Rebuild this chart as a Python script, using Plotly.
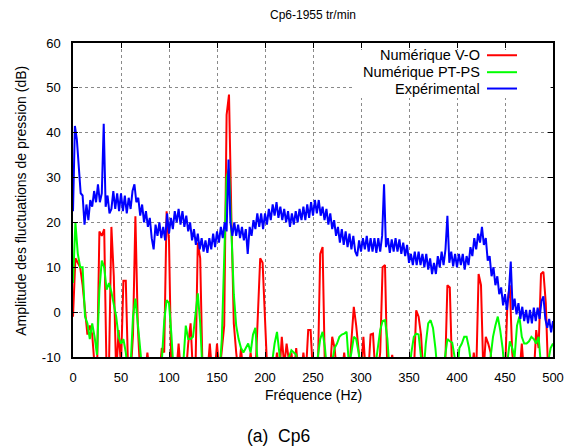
import plotly.graph_objects as go

# ---------------- data ----------------
num_step = 2.5   # Hz, numerical spectra resolution
exp_step = 2.0   # Hz, experimental spectrum resolution

vo_db = [
    -1, 12, 11, 10, 6, 1, -5, -3, -5, -12, -14, 18, 17, 18.5, -14, -12, 19, 8, -14, -4,
    -12, 7, 7, -14, -14, -5, 21.4, -3, -14, -14, -14, -9, -14, -14, -14, -14, -14, -8, -9, 22.5,
    16, -14, -14, -14, -7, -14, -14, -14, -7, -2.5, -14, -14, 15.5, 12, -14, -14, -14, -7, -14, -14,
    -7, -14, -8, -3, 44, 48.5, 21, -2.5, -9, -14, -8, -14, -14, -14, -9, -14, -14, -0.5, 12, 11,
    -5.5, -14, -14, -14, -14, -9, -14, -5.5, -12, -7, -11, -9, -14, -8, -14, -14, -9, -14, -4, -4,
    -14, -14, -14, 13, 14.5, -14, -14, -14, -5.5, -8, -14, -14, -14, -9, -14, -14, -6, 1.2, -3, -9,
    -14, -5.5, -14, -14, -5, -4.8, -14, -14, -9, 10, 10.5, -14, -14, -9.5, -14, -14, -14, -14, -14, -14,
    -14, -14, -14, 0.4, -1, -5, -14, -14, -14, -14, -14, -14, -14, -14, -12, -14, 6, 5.5, -14, -14,
    -14, -14, -14, -12, -14, -14, -14, -9, -14, 8.5, 6, -14, -5.5, -7, -9, -14, -14, -14, -14, -14,
    -14, 2, 6, -9, -14, -14, -14, -7, -14, -14, -14, -14, -14, -4, -8, 8.5, 9, 2, -14, -14, -14,
]

ptps_db = [
    6.5, 20, 13, 10, 10, -1, -2.5, -6, -2.5, -5.5, -9.5, 5, 11.5, 10, 5, 6.5, 4.5, 2, -1, -5.5,
    -7, -6, -9, -14, -12, -1, 3, -2.5, -9, -14, -14, -14, -14, -14, -14, -14, -14, -11, -2, 2.7,
    2, -5, -14, -14, -14, -14, -11, -3, -6, -6, -5.5, 0, 4.2, -2.5, -14, -14, -14, -14, -14, -14,
    -14, -14, -6, 12, 30, 32, 19, 4, -3, -6, -8, -9, -8, -7, -9, -5, -3.5, -12, -14, -14,
    -14, -14, -14, -11, -7, -4.4, -9, -14, -14, -14, -10, -8.5, -9, -9.5, -14, -14, -14, -14, -14, -14,
    -14, -14, -10, -6, -4.4, -8, -14, -14, -11, -8, -7, -5.5, -5, -4.8, -4.4, -12, -9, -5.5, -6, -9,
    -14, -10, -14, -14, -14, -14, -12, -8, -4, -2, -1.8, -6, -14, -14, -14, -14, -14, -14, -14, -14,
    -14, -9, -5.5, -4.8, -5, -10, -14, -7, -2.5, -1.8, -3.5, -8, -14, -14, -14, -10, -6, -6.5, -6.8, -10,
    -14, -8, -7, -5.5, -5.5, -8, -12, -14, -14, -14, -14, -14, -14, -14, -10, -5.5, -3, -1, -4, -8,
    -14, -11, -6.5, -8, -10, -3, -1, -5.5, -7, -7, -6.5, -5.5, -6, -7, -5.5, -12, -11, -14, -11, -8, -7,
]

exp_db = [
    22.5, 41.5, 38.5, 31.5, 26.5, 26, 19.5, 24, 20.5, 25,
    23.5, 27, 24.5, 28.5, 24.5, 26.5, 42, 23.5, 26, 22,
    23, 27, 23, 26.5, 22.5, 26.5, 22.5, 26, 22, 25.5,
    23, 27, 28.5, 24.5, 25.5, 21.5, 24, 20, 22.5, 19,
    21, 16.5, 14, 19.5, 17, 20, 16.5, 19, 16, 22,
    17.5, 21, 18.5, 22.5, 20, 23, 19.5, 22.5, 19, 21.5,
    18, 20, 16, 18.5, 15, 17.5, 14, 16.5, 13.5, 16,
    13.2, 16.5, 14, 17.5, 14.5, 18, 15.5, 19, 16.5, 20,
    18, 34, 20, 17, 20, 17, 19.5, 16.5, 19, 16,
    18.5, 13, 19, 17, 20.5, 18.5, 22, 19, 22, 18.5,
    22, 19.5, 23, 20.5, 24, 21.5, 24.5, 21, 23.5, 20.5,
    23, 20, 22.5, 19, 22, 19.5, 22.5, 20, 23, 20.5,
    23.5, 20.5, 24, 21, 24.5, 21.5, 25, 22, 25, 21.5,
    23.5, 20.5, 23, 19.5, 22, 18.5, 20.5, 17, 19, 15.5,
    18.5, 15, 18, 14.5, 17.5, 14, 17, 13.5, 12.5, 16,
    13.5, 16.5, 14, 17, 13.5, 16.5, 13.5, 16.5, 13.2, 16.5,
    13.5, 17, 28.5, 14.5, 16.5, 13.2, 16.2, 13.5, 16.5, 13.5,
    16.2, 13, 15.5, 12.5, 15, 11, 13, 10.5, 13.5, 10.5,
    13.5, 10.5, 13, 10, 13, 9.5, 12, 8.5, 11, 8.5,
    12.5, 10, 13.5, 10.5, 14, 21.5, 11, 13.5, 10.2, 13,
    10, 13, 10.5, 13, 9.5, 12.5, 10.5, 14.5, 12.5, 16.5,
    14, 17.5, 15.5, 19, 15, 16.5, 11.5, 12.5, 8, 10,
    6, 8, 4, 5.5, 1.5, 4, 0.5, 4.5, 11.3, 0.5,
    3, -0.5, 2, -1.5, 1.2, -2, 0.5, -2.5, 0.5, -2.5,
    1, -2, 1, -1.5, 2.5, 3.5, -1.5, -3.5, -1.5, -4.5, -2,
]

num_freq = [i * num_step for i in range(len(vo_db))]
exp_freq = [i * exp_step for i in range(len(exp_db))]

series_names = ["Numérique V-O", "Numérique PT-PS", "Expérimental"]
series_colors = ["#ff0000", "#00ff00", "#0000ff"]

x_ticks = [0, 50, 100, 150, 200, 250, 300, 350, 400, 450, 500]
y_ticks = [-10, 0, 10, 20, 30, 40, 50, 60]
y_tick_labels = ["-10", "0", "10", "20", "30", "40", "50", "60"]

# ---------------- figure ----------------
FONT = "Liberation Sans, Arial, Helvetica, sans-serif"

fig = go.Figure()
fig.add_trace(go.Scatter(x=num_freq, y=vo_db, mode="lines",
                         line=dict(color=series_colors[0], width=2),
                         name=series_names[0], showlegend=False))
fig.add_trace(go.Scatter(x=num_freq, y=ptps_db, mode="lines",
                         line=dict(color=series_colors[1], width=2),
                         name=series_names[1], showlegend=False))
fig.add_trace(go.Scatter(x=exp_freq, y=exp_db, mode="lines",
                         line=dict(color=series_colors[2], width=2),
                         name=series_names[2], showlegend=False))

axis_common = dict(
    showline=True, linecolor="black", linewidth=1.5, mirror="ticks",
    ticks="inside", ticklen=5, tickcolor="black", tickwidth=1,
    showgrid=True, gridcolor="#8a8a8a", griddash="dot", gridwidth=1,
    zeroline=False, automargin=False,
    tickfont=dict(family=FONT, size=13, color="black"),
)

fig.update_layout(
    width=566, height=448, autosize=False,
    margin=dict(l=73, r=13, t=43, b=91),
    paper_bgcolor="white", plot_bgcolor="white",
    font=dict(family=FONT, color="black"),
    showlegend=False,
    xaxis=dict(range=[0, 500], tickvals=x_ticks, ticklabelstandoff=8,
               ticklabeloverflow="allow", **axis_common),
    yaxis=dict(range=[-10, 60], tickvals=y_ticks, ticktext=y_tick_labels,
               ticklabelstandoff=8, **axis_common),
)

# legend background (opaque key box, as in gnuplot)
fig.add_shape(type="rect", xref="paper", yref="paper",
              x0=0.5875, x1=0.995, y0=0.825, y1=0.978,
              fillcolor="white", line=dict(width=0), layer="above")

legend_rows_y = [0.961, 0.907, 0.855]
for name, color, yy in zip(series_names, series_colors, legend_rows_y):
    fig.add_annotation(x=0.852, y=yy, xref="paper", yref="paper",
                       text=name, showarrow=False, xanchor="right", yanchor="middle",
                       font=dict(family=FONT, size=14.5, color="black"))
    fig.add_shape(type="line", xref="paper", yref="paper",
                  x0=0.8625, x1=0.925, y0=yy, y1=yy,
                  line=dict(color=color, width=2), layer="above")

# titles
fig.add_annotation(x=0.5, y=1.089, xref="paper", yref="paper",
                   text="Cp6-1955 tr/min", showarrow=False,
                   xanchor="center", yanchor="middle",
                   font=dict(family=FONT, size=12, color="black"))
fig.add_annotation(x=0.5, y=-0.121, xref="paper", yref="paper",
                   text="Fréquence (Hz)", showarrow=False,
                   xanchor="center", yanchor="middle",
                   font=dict(family=FONT, size=14, color="black"))
fig.add_annotation(x=-0.110, y=0.498, xref="paper", yref="paper",
                   text="Amplitude des fluctuations de pression (dB)", showarrow=False,
                   textangle=-90, xanchor="center", yanchor="middle",
                   font=dict(family=FONT, size=14, color="black"))
fig.add_annotation(x=0.428, y=-0.25, xref="paper", yref="paper",
                   text="(a)&nbsp;&nbsp;Cp6", showarrow=False,
                   xanchor="center", yanchor="middle",
                   font=dict(family=FONT, size=17.5, color="black"))

fig.write_html(
    "out.html",
    config={"displayModeBar": False, "responsive": False},
    post_script="document.body.style.margin='0';document.body.style.padding='0';",
)
